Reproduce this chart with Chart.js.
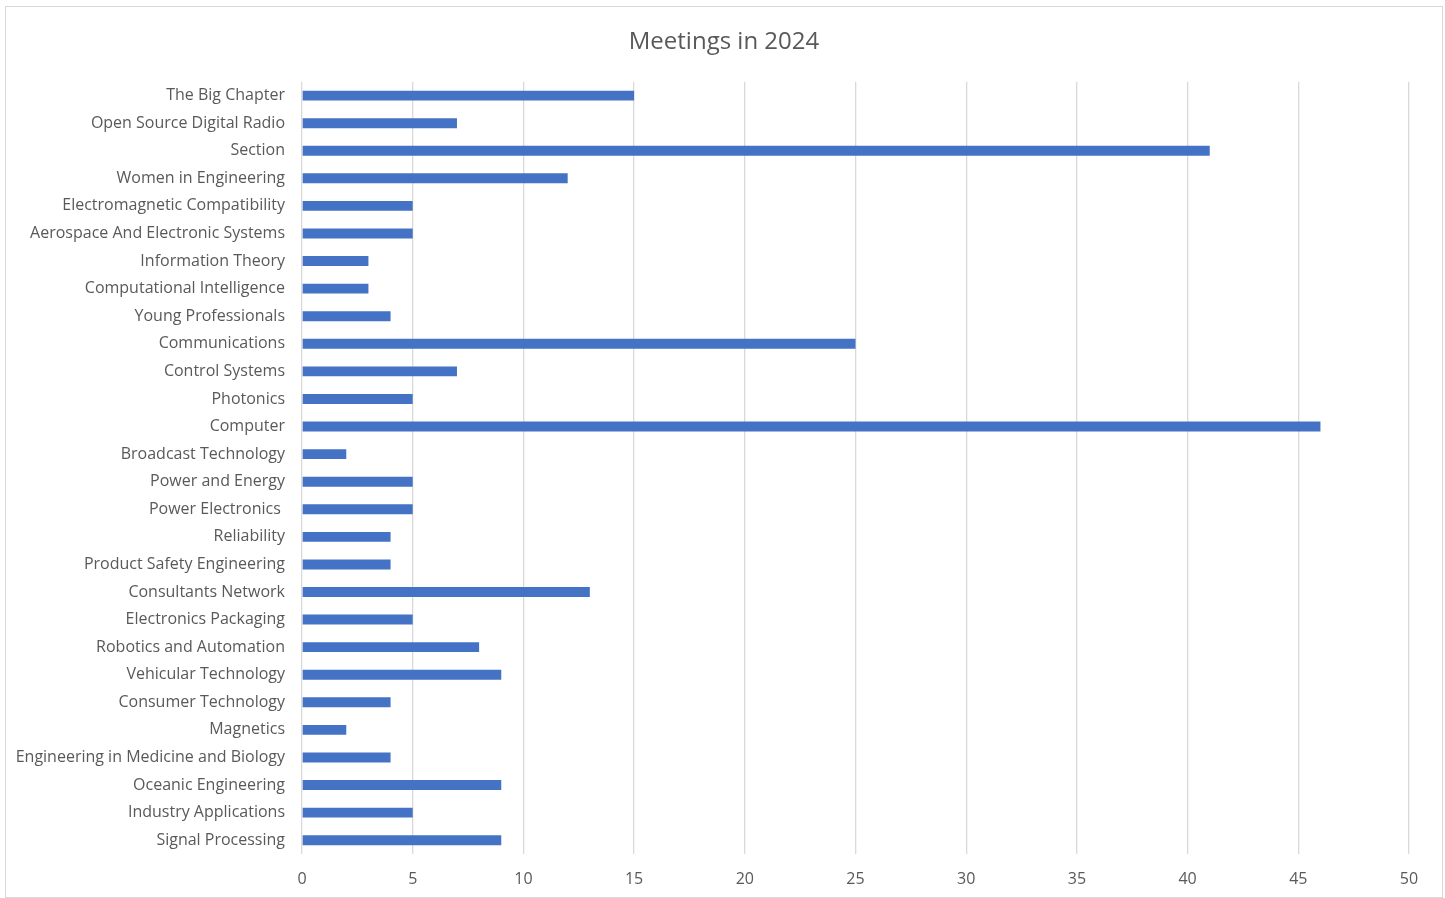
<!DOCTYPE html>
<html>
<head>
<meta charset="utf-8">
<script src="https://cdn.jsdelivr.net/npm/chart.js@4"></script>
<style>
  body { margin: 0; background: #fff; }
  #box { position: absolute; left: 5px; top: 6px; width: 1436px; height: 890px; border: 1px solid #d9d9d9; }
</style>
</head>
<body>
<div id="box"><canvas id="myChart"></canvas></div>
<script>
// Chart data
const categories = [
    'The Big Chapter', 'Open Source Digital Radio', 'Section', 'Women in Engineering',
    'Electromagnetic Compatibility', 'Aerospace And Electronic Systems', 'Information Theory',
    'Computational Intelligence', 'Young Professionals', 'Communications', 'Control Systems',
    'Photonics', 'Computer', 'Broadcast Technology', 'Power and Energy', 'Power Electronics ',
    'Reliability', 'Product Safety Engineering', 'Consultants Network', 'Electronics Packaging',
    'Robotics and Automation', 'Vehicular Technology', 'Consumer Technology', 'Magnetics',
    'Engineering in Medicine and Biology', 'Oceanic Engineering', 'Industry Applications',
    'Signal Processing'
];
const meetings = [15, 7, 41, 12, 5, 5, 3, 3, 4, 25, 7, 5, 46, 2, 5, 5, 4, 4, 13, 5, 8, 9, 4, 2, 4, 9, 5, 9];
const xTicks = [0, 50, 5]; // min, max, step

const fontFamily = "'Open Sans', 'Noto Sans', sans-serif";
const textColor = '#595959';

// center the title over the whole canvas, not the padded box
const fullWidthTitle = {
    id: 'fullWidthTitle',
    afterLayout(chart) {
        const t = chart.titleBlock;
        if (t) {
            t.left = 0;
            t.right = chart.width;
            t.width = chart.width;
        }
    }
};

const ctx = document.getElementById('myChart').getContext('2d');
new Chart(ctx, {
    type: 'bar',
    data: {
        labels: categories,
        datasets: [{
            label: 'Meetings',
            data: meetings,
            backgroundColor: '#4472C4',
            borderWidth: 0,
            barPercentage: 0.72,
            categoryPercentage: 0.5
        }]
    },
    options: {
        indexAxis: 'y',
        responsive: true,
        maintainAspectRatio: false,
        animation: false,
        layout: { padding: { left: 0, right: 33, top: 0, bottom: 0 } },
        plugins: {
            legend: { display: false },
            tooltip: { enabled: false },
            title: {
                display: true,
                text: 'Meetings in 2024',
                color: textColor,
                font: { family: fontFamily, size: 24, weight: 'normal', lineHeight: 1.2 },
                padding: { top: 20.6, bottom: 25.4 }
            }
        },
        scales: {
            x: {
                min: xTicks[0],
                max: xTicks[1],
                ticks: {
                    stepSize: xTicks[2],
                    color: textColor,
                    padding: 16,
                    font: { family: fontFamily, size: 16 }
                },
                grid: { color: '#d9d9d9', lineWidth: 1.3, drawTicks: false },
                border: { display: false },
                afterFit: (scale) => { scale.height = 43; }
            },
            y: {
                ticks: {
                    color: textColor,
                    padding: 17,
                    autoSkip: false,
                    font: { family: fontFamily, size: 16 }
                },
                grid: { display: false, drawTicks: false },
                border: { display: false },
                afterFit: (scale) => { scale.width = 296; }
            }
        }
    },
    plugins: [fullWidthTitle]
});
</script>
</body>
</html>
